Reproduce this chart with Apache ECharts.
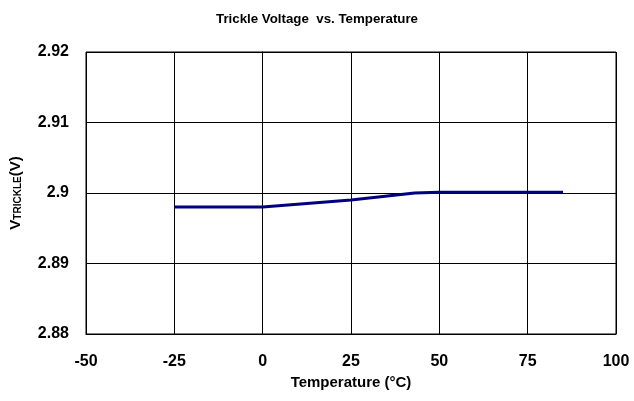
<!DOCTYPE html>
<html>
<head>
<meta charset="utf-8">
<script src="https://cdn.jsdelivr.net/npm/echarts@6/dist/echarts.min.js"></script>
<style>
html, body { margin: 0; padding: 0; background: #fff; }
#chart { width: 634px; height: 401px; }
</style>
</head>
<body>
<div id="chart"></div>
<script>
var temps = [-25, 0, 25, 43, 50, 85];
var vTrickle = [2.8980, 2.8980, 2.8990, 2.9000, 2.9001, 2.9001];
var xTicks = [-50, 100, 25];
var yTicks = [2.88, 2.92, 0.01];

var points = [];
for (var i = 0; i < temps.length; i++) {
  points.push([temps[i], vTrickle[i]]);
}

var font = 'Liberation Sans, Arial, sans-serif';
var myChart = echarts.init(document.getElementById('chart'));

var option = {
  animation: false,
  title: {
    text: 'Trickle Voltage  vs. Temperature',
    left: 'center',
    top: 8,
    textStyle: { fontFamily: font, fontSize: 13.3, fontWeight: 'bold', color: '#000' }
  },
  grid: {
    left: 86, right: 18, top: 52, bottom: 67,
    outerBoundsMode: 'none',
    containLabel: false,
    show: true, borderColor: '#000', borderWidth: 1
  },
  xAxis: {
    type: 'value',
    min: xTicks[0], max: xTicks[1], interval: xTicks[2],
    name: 'Temperature (°C)',
    nameLocation: 'middle',
    nameGap: 38,
    nameTextStyle: { fontFamily: font, fontSize: 15, fontWeight: 'bold', color: '#000' },
    axisLine: { lineStyle: { color: '#000' } },
    axisTick: { show: false },
    axisLabel: { fontFamily: font, fontSize: 16, fontWeight: 'bold', color: '#000', margin: 20 },
    splitLine: { lineStyle: { color: '#000', width: 1 } }
  },
  yAxis: {
    type: 'value',
    min: yTicks[0], max: yTicks[1], interval: yTicks[2],
    name: '{v|V}{s|TRICKLE}{v|(V)}',
    nameLocation: 'middle',
    nameGap: 63,
    nameTextStyle: {
      rich: {
        v: { fontFamily: font, fontSize: 15, fontWeight: 'bold', color: '#000' },
        s: { fontFamily: font, fontSize: 10, fontWeight: 'bold', color: '#000', verticalAlign: 'bottom', padding: [5, 0, 0, 0] }
      }
    },
    axisLine: { show: true, lineStyle: { color: '#000' } },
    axisTick: { show: true, length: 3, lineStyle: { color: '#000' } },
    axisLabel: {
      fontFamily: font, fontSize: 16, fontWeight: 'bold', color: '#000', margin: 17,
      formatter: function (v) { return String(parseFloat(v.toFixed(4))); }
    },
    splitLine: { lineStyle: { color: '#000', width: 1 } }
  },
  series: [{
    type: 'line',
    data: points,
    symbol: 'none',
    lineStyle: { color: '#000080', width: 3 }
  }]
};

myChart.setOption(option, true);
</script>
</body>
</html>
